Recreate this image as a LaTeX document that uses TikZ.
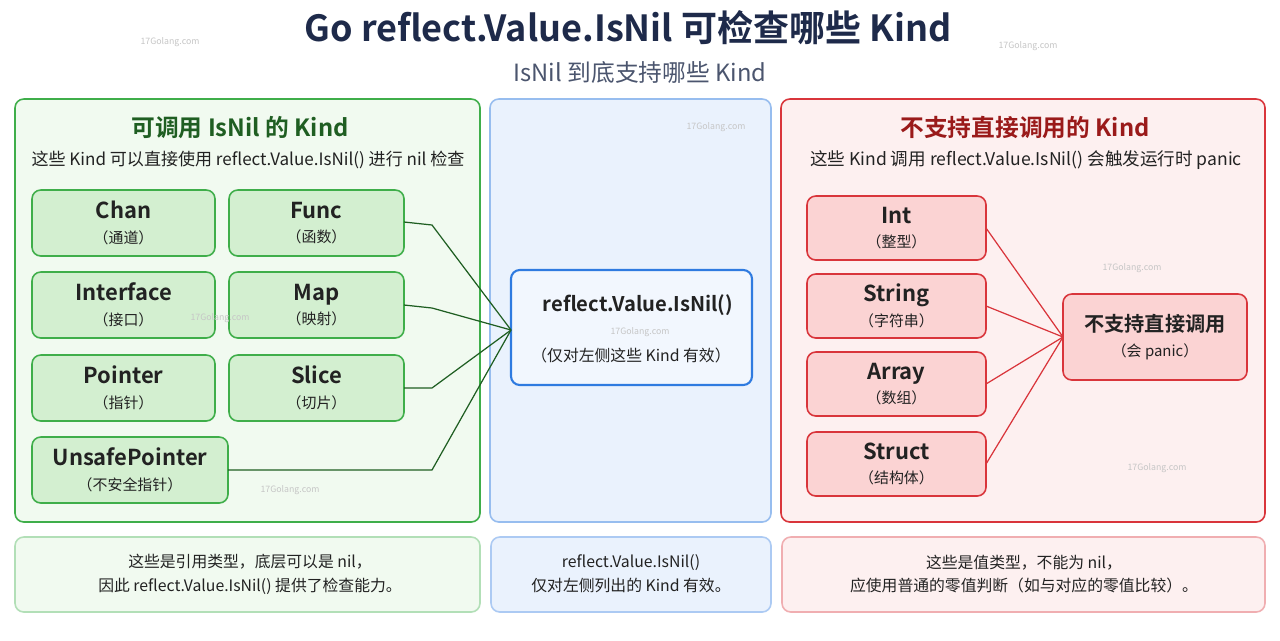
\documentclass[tikz,border=0pt]{standalone}
\usepackage{fontspec}
\setmainfont{Noto Sans CJK SC}[BoldFont=* Bold]
\definecolor{navy}{HTML}{1E2A4A}
\definecolor{gline}{HTML}{3FAE4A}
\definecolor{gfill}{HTML}{F1FAF0}
\definecolor{gbox}{HTML}{D3EFD0}
\definecolor{gdark}{HTML}{1F5E22}
\definecolor{bline}{HTML}{2F7BE0}
\definecolor{bfill}{HTML}{EAF2FD}
\definecolor{rline}{HTML}{D9353B}
\definecolor{rfill}{HTML}{FDF0F0}
\definecolor{rbox}{HTML}{FBD3D3}
\definecolor{rdark}{HTML}{9A1A1A}
\definecolor{txt}{HTML}{222222}
\begin{document}
\begin{tikzpicture}[x=0.02cm,y=-0.02cm,
 panel/.style={draw=#1,line width=0.9pt,rounded corners=5pt},
 kbox/.style={draw=#1,line width=0.9pt,rounded corners=5pt,align=center,text=txt},
 foot/.style={font=\fontsize{9}{13.5}\selectfont,align=center,text=txt},
 wm/.style={font=\fontsize{5}{6}\selectfont,text=gray!45},
 gcon/.style={draw=gdark,line width=0.7pt},
 rcon/.style={draw=rline,line width=0.7pt}]
\useasboundingbox (0,0) rectangle (1280,640);
\fill[white] (0,0) rectangle (1280,640);
\node[font=\bfseries\fontsize{20.5}{24}\selectfont,text=navy] (title) at (628,28) {Go reflect.Value.IsNil 可检查哪些 Kind};
\node[font=\fontsize{13.5}{15}\selectfont,text=navy!80] (sub) at (640,72) {IsNil 到底支持哪些 Kind};
% panels
\draw[panel=gline,fill=gfill] (15,99) rectangle (480,522);
\draw[panel=bline!50,fill=bfill] (490,99) rectangle (771,522);
\draw[panel=rline,fill=rfill] (781,99) rectangle (1265,522);
\node[font=\bfseries\fontsize{13.5}{16}\selectfont,text=gdark] (gh) at (240,128) {可调用 IsNil 的 Kind};
\node[font=\fontsize{9.7}{11}\selectfont,text=txt] (gs) at (248,160) {这些 Kind 可以直接使用 reflect.Value.IsNil() 进行 nil 检查};
\node[font=\bfseries\fontsize{13.5}{16}\selectfont,text=rdark] (rh) at (1025,128) {不支持直接调用的 Kind};
\node[font=\fontsize{10}{11}\selectfont,text=txt] (rs) at (1026,160) {这些 Kind 调用 reflect.Value.IsNil() 会触发运行时 panic};
\newcommand{\kb}[7]{\draw[kbox=#6,fill=#7] (#2) rectangle (#3);
 \path (#2) -- (#3) node[midway,align=center,text=txt] (#1) {{\bfseries\fontsize{12.5}{14}\selectfont #4}\\[2pt]{\fontsize{8.5}{10}\selectfont #5}};}
\kb{chan}{32,190}{215,256}{Chan}{（通道）}{gline}{gbox}
\kb{func}{229,190}{404,256}{Func}{（函数）}{gline}{gbox}
\kb{iface}{32,272}{215,338}{Interface}{（接口）}{gline}{gbox}
\kb{map}{229,272}{404,338}{Map}{（映射）}{gline}{gbox}
\kb{ptr}{32,355}{215,421}{Pointer}{（指针）}{gline}{gbox}
\kb{slice}{229,355}{404,421}{Slice}{（切片）}{gline}{gbox}
\kb{uptr}{32,437}{228,503}{UnsafePointer}{（不安全指针）}{gline}{gbox}
% center
\draw[kbox=bline,fill=bfill!60!white,line width=1.2pt] (511,270) rectangle (752,385);
\node[font=\bfseries\fontsize{11.5}{13}\selectfont,text=txt] (isnil) at (638,305) {reflect.Value.IsNil()};
\node[font=\fontsize{9}{10}\selectfont,text=txt] (isnils) at (631,355) {（仅对左侧这些 Kind 有效）};
\coordinate (cin) at (511,330);
\draw[gcon] (404,222) -- (432,225) -- (cin);
\draw[gcon] (404,305) -- (432,308) -- (cin);
\draw[gcon] (404,388) -- (432,388) -- (cin);
\draw[gcon] (228,470) -- (432,470) -- (cin);
% red boxes
\kb{int}{807,196}{986,260}{Int}{（整型）}{rline}{rbox}
\kb{str}{807,274}{986,338}{String}{（字符串）}{rline}{rbox}
\kb{arr}{807,352}{986,416}{Array}{（数组）}{rline}{rbox}
\kb{struct}{807,432}{986,496}{Struct}{（结构体）}{rline}{rbox}
\kb{nop}{1063,294}{1247,380}{\fontsize{11.5}{13}\selectfont 不支持直接调用}{（会 panic）}{rline}{rbox}
\coordinate (rin) at (1063,337);
\foreach \n in {int,str,arr,struct} \draw[rcon] (\n.center -| 986,0) -- (rin);
% footers
\draw[panel=gline!40,fill=gfill] (15,537) rectangle (480,612);
\node[foot] (gf) at (250,574) {这些是引用类型，底层可以是 nil，\\因此 reflect.Value.IsNil() 提供了检查能力。};
\draw[panel=bline!40,fill=bfill] (491,537) rectangle (771,612);
\node[foot] (bf) at (631,574) {reflect.Value.IsNil()\\仅对左侧列出的 Kind 有效。};
\draw[panel=rline!40,fill=rfill] (782,537) rectangle (1265,612);
\node[foot] (rf) at (1024,574) {这些是值类型，不能为 nil，\\应使用普通的零值判断（如与对应的零值比较）。};
\foreach \x/\y [count=\i] in {170/42,1028/46,716/127,220/318,640/332,1132/268,1157/468,290/490}
 \node[wm] (wm\i) at (\x,\y) {17Golang.com};
\end{tikzpicture}
\end{document}
